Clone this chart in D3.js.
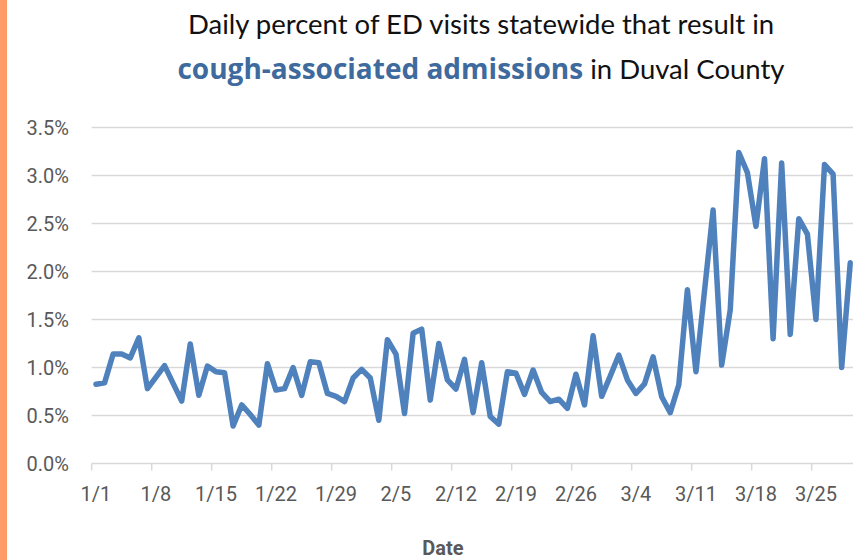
<!DOCTYPE html>
<html>
<head>
<meta charset="utf-8">
<script src="https://cdn.jsdelivr.net/npm/d3@7"></script>
<style>
  html, body { margin: 0; padding: 0; background: #fff; }
  svg { display: block; }
</style>
</head>
<body>
<svg id="chart" width="853" height="560"></svg>
<script>
// ---- data ----
const values = [
  0.825, 0.84, 1.14, 1.14, 1.10, 1.31, 0.78, 0.90, 1.02, 0.835,
  0.65, 1.245, 0.71, 1.015, 0.955, 0.945, 0.39, 0.61, 0.51, 0.40,
  1.04, 0.765, 0.78, 1.00, 0.71, 1.06, 1.05, 0.73, 0.70, 0.645,
  0.89, 0.98, 0.89, 0.45, 1.29, 1.14, 0.52, 1.356, 1.40, 0.66,
  1.25, 0.87, 0.776, 1.085, 0.53, 1.05, 0.49, 0.41, 0.956, 0.94,
  0.72, 0.974, 0.74, 0.645, 0.67, 0.575, 0.93, 0.61, 1.33, 0.70,
  0.91, 1.13, 0.87, 0.73, 0.83, 1.11, 0.696, 0.53, 0.82, 1.81,
  0.956, 1.80, 2.64, 1.026, 1.60, 3.24, 3.03, 2.47, 3.175, 1.30,
  3.13, 1.345, 2.55, 2.39, 1.50, 3.115, 3.015, 1.00, 2.09
];
const xTickLabels = ["1/1","1/8","1/15","1/22","1/29","2/5","2/12","2/19","2/26","3/4","3/11","3/18","3/25"];
const yTicks = [0, 0.5, 1.0, 1.5, 2.0, 2.5, 3.0, 3.5];
const categoryCount = 90; // 1/1 .. 3/31
const titleLine1 = "Daily percent of ED visits statewide that result in";
const titleBold = "cough-associated admissions";
const titleRest = " in Duval County";
const xAxisTitle = "Date";

// ---- layout ----
const svg = d3.select("#chart");
const left = 91.7, step = 8.571;
const x = d3.scaleLinear().domain([0, categoryCount]).range([left, left + categoryCount * step]);
const y = d3.scaleLinear().domain([0, 3.5]).range([463.5, 127.5]);
const rightEdge = 853;

// left orange bar
svg.append("rect").attr("x", 0).attr("y", 0).attr("width", 7).attr("height", 560).attr("fill", "#FF9B66");

// title
svg.append("text").attr("x", 481).attr("y", 34).attr("text-anchor", "middle")
  .attr("font-family", "Lato, 'Noto Sans', sans-serif").attr("font-size", 27.5).attr("fill", "#111")
  .text(titleLine1);
const t2 = svg.append("text").attr("x", 481).attr("y", 79).attr("text-anchor", "middle")
  .attr("font-family", "Lato, 'Noto Sans', sans-serif").attr("font-size", 27.5).attr("fill", "#111");
t2.append("tspan").attr("font-family", "'Open Sans', Lato, sans-serif").attr("font-weight", "bold")
  .attr("font-size", 28).attr("fill", "#3E6A9E").text(titleBold);
t2.append("tspan").text(titleRest);

// gridlines
svg.append("g").selectAll("line").data(yTicks.filter(d => d > 0)).join("line")
  .attr("x1", left).attr("x2", rightEdge)
  .attr("y1", d => y(d)).attr("y2", d => y(d))
  .attr("stroke", "#D9D9D9").attr("stroke-width", 1.5);

// y labels
svg.append("g").selectAll("text").data(yTicks).join("text")
  .attr("x", 69).attr("y", d => y(d)).attr("dy", "0.36em").attr("text-anchor", "end")
  .attr("font-family", "Roboto, sans-serif").attr("font-size", 20).attr("fill", "#595959")
  .text(d => d.toFixed(1) + "%");

// x axis line + ticks
svg.append("line").attr("x1", left).attr("x2", rightEdge).attr("y1", y(0)).attr("y2", y(0))
  .attr("stroke", "#D9D9D9").attr("stroke-width", 1.5);
svg.append("g").selectAll("line").data(xTickLabels).join("line")
  .attr("x1", (d, i) => x(i * 7)).attr("x2", (d, i) => x(i * 7))
  .attr("y1", y(0)).attr("y2", y(0) + 7)
  .attr("stroke", "#D9D9D9").attr("stroke-width", 1.5);
svg.append("g").selectAll("text").data(xTickLabels).join("text")
  .attr("x", (d, i) => x(i * 7 + 0.5)).attr("y", 501).attr("text-anchor", "middle")
  .attr("font-family", "Roboto, sans-serif").attr("font-size", 20).attr("fill", "#595959")
  .text(d => d);

// axis title
svg.append("text").attr("x", 443).attr("y", 555).attr("text-anchor", "middle")
  .attr("font-family", "Roboto, sans-serif").attr("font-weight", "bold").attr("font-size", 20).attr("fill", "#595959")
  .text(xAxisTitle);

// line
const line = d3.line().x((d, i) => x(i + 0.5)).y(d => y(d));
svg.append("path").datum(values).attr("d", line)
  .attr("fill", "none").attr("stroke", "#4F81BD").attr("stroke-width", 5.5)
  .attr("stroke-linejoin", "round").attr("stroke-linecap", "round");
</script>
</body>
</html>
